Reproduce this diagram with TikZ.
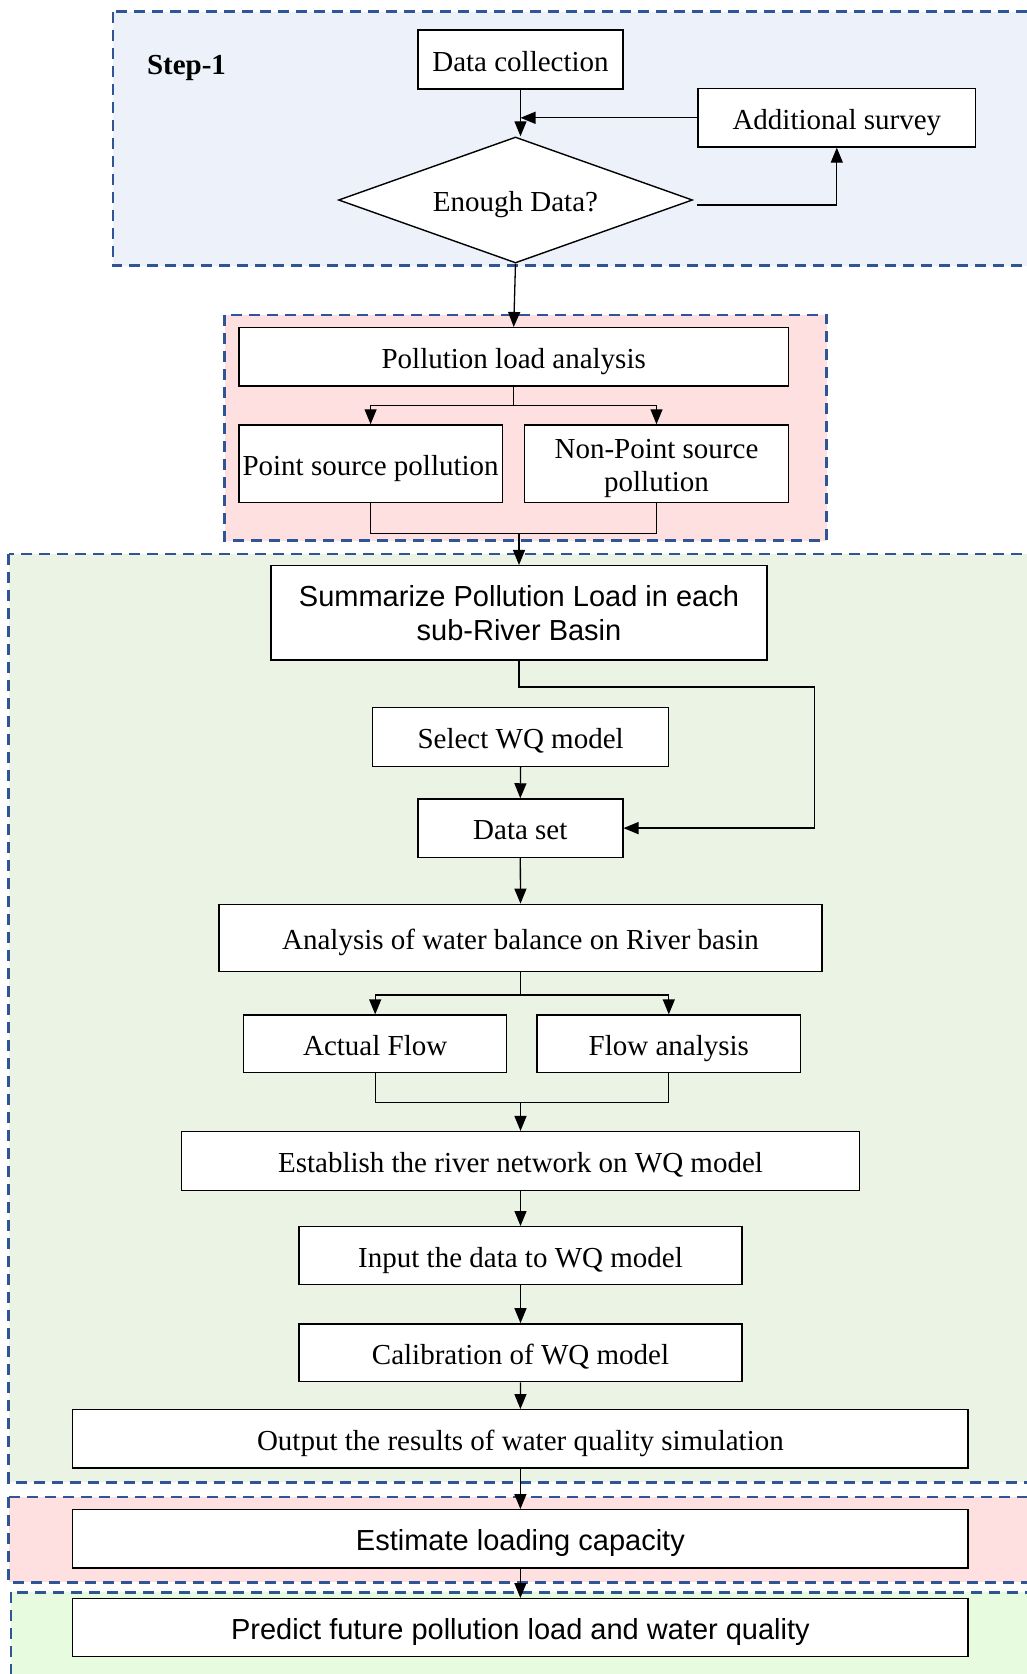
\documentclass[tikz,border=0pt]{standalone}
\usepackage{fontspec}
\setmainfont{Liberation Serif}
\newfontfamily\arialfont{Liberation Sans}
\usetikzlibrary{arrows.meta,shapes.geometric,calc}
\definecolor{dashblue}{RGB}{47,85,151}
\definecolor{zoneblue}{RGB}{237,242,250}
\definecolor{zonepink}{RGB}{255,224,225}
\definecolor{zonegreen}{RGB}{235,243,228}
\definecolor{zonelime}{RGB}{231,251,222}
\begin{document}
\begin{tikzpicture}[x=1pt,y=-1pt,
  mbox/.style={draw=black, line width=1.4pt, fill=white, inner sep=0pt, align=center,
              font={\fontsize{29}{34}\selectfont}},
  box/.style={mbox, text height=29pt, text depth=6pt},
  sbox/.style={box, font={\arialfont\fontsize{29}{34}\selectfont}},
  smbox/.style={mbox, font={\arialfont\fontsize{29}{34}\selectfont}},
  arr/.style={line width=1.3pt, -{Triangle[length=15pt,width=12pt]}},
  link/.style={line width=1.3pt},
  zone/.style={draw=dashblue, line width=2.6pt, dash pattern=on 11pt off 7pt},
]
\useasboundingbox (0,0) rectangle (1027,1674);

% background zones
\path[zone, fill=zoneblue]  (113,11.7)  rectangle (1045,265.7);
\path[zone, fill=zonepink]  (224.5,315) rectangle (826.5,540.7);
\path[zone, fill=zonegreen] (8.5,554)   rectangle (1045,1482.3);
\path[zone, fill=zonepink]  (8.5,1497)  rectangle (1045,1582.3);
\path[zone, fill=zonelime]  (11,1592.3) rectangle (1045,1710);

\node[font={\bfseries\fontsize{29}{34}\selectfont}, text height=20pt, text depth=0pt] (step) at (186.5,64) {Step-1};

% step 1
\node[box, minimum width=205pt, minimum height=59pt] (dc) at (520.5,59.5) {Data collection};
\node[box, minimum width=277.6pt, minimum height=58.3pt] (as) at (836.8,117.8) {Additional survey};
\node[box, diamond, aspect=2.81, minimum width=354pt, minimum height=126pt] (dia) at (515.5,200) {Enough Data?};
\coordinate (dx) at (697,205);

% pollution load
\node[box, minimum width=549.8pt, minimum height=58.3pt] (pla) at (513.7,356.8) {Pollution load analysis};
\node[box, minimum width=263.6pt, minimum height=77.7pt] (psp) at (370.6,463.8) {Point source pollution};
\node[mbox, minimum width=264.1pt, minimum height=77.7pt] (npsp) at (656.5,463.8)
  {\raisebox{-4pt}[\height][\depth]{\begin{tabular}{@{}c@{}}Non-Point source\\[-1pt]pollution\end{tabular}}};

% water quality model
\node[smbox, minimum width=496pt, minimum height=94.3pt] (sum) at (519,612.8) {Summarize Pollution Load in each\\sub-River Basin};
\node[box, minimum width=296pt, minimum height=58.6pt] (sel) at (520.6,737) {Select WQ model};
\node[box, minimum width=205pt, minimum height=58.3pt] (ds) at (520.3,828.1) {Data set};
\node[box, minimum width=603pt, minimum height=67.2pt] (awb) at (520.5,937.9) {Analysis of water balance on River basin};
\node[box, minimum width=263pt, minimum height=57.7pt] (af) at (375.2,1043.9) {Actual Flow};
\node[box, minimum width=263.6pt, minimum height=57.7pt] (fa) at (668.8,1043.9) {Flow analysis};
\node[box, minimum width=678pt, minimum height=58.7pt] (net) at (520.5,1161) {Establish the river network on WQ model};
\node[box, minimum width=443pt, minimum height=57.6pt] (inp) at (520.5,1255.5) {Input the data to WQ model};
\node[box, minimum width=443pt, minimum height=57.7pt] (cal) at (520.5,1352.7) {Calibration of WQ model};
\node[box, minimum width=895.3pt, minimum height=58.3pt] (out) at (520.4,1438.9) {Output the results of water quality simulation};

% capacity and prediction
\node[sbox, minimum width=895.3pt, minimum height=58.3pt] (cap) at (520.4,1538.9) {Estimate loading capacity};
\node[sbox, minimum width=895.3pt, minimum height=58pt] (pred) at (520.4,1627.7) {Predict future pollution load and water quality};

% junction points
\coordinate (j1) at (0,405.7);
\coordinate (j2) at (0,533.3);
\coordinate (j3) at (814.7,687);
\coordinate (j4) at (0,995);
\coordinate (j5) at (0,1102.7);

% connectors, step 1
\draw[arr] (dc.south) -- (dc.south |- dia.north);
\draw[arr] (as.west) -- (as.west -| dc.south);
\draw[arr] (dx) -| (as.south);
\draw[arr] (dia.south) -- (pla.north);

% connectors, pollution load
\draw[link] (pla.south) -- (pla.south |- j1);
\draw[arr] (pla.south |- j1) -| (psp.north);
\draw[arr] (pla.south |- j1) -| (npsp.north);
\draw[link] (psp.south) -- (psp.south |- j2) -- (npsp.south |- j2) -- (npsp.south);
\draw[arr] (sum.north |- j2) -- (sum.north);

% connectors, water quality model
\draw[arr] (sum.south) |- (j3) |- (ds.east);
\draw[arr] (sel.south) -- (ds.north);
\draw[arr] (ds.south) -- (awb.north);
\draw[link] (awb.south) -- (awb.south |- j4);
\draw[arr] (awb.south |- j4) -| (af.north);
\draw[arr] (awb.south |- j4) -| (fa.north);
\draw[link] (af.south) -- (af.south |- j5) -- (fa.south |- j5) -- (fa.south);
\draw[arr] (net.north |- j5) -- (net.north);
\draw[arr] (net.south) -- (inp.north);
\draw[arr] (inp.south) -- (cal.north);
\draw[arr] (cal.south) -- (out.north);
\draw[arr] (out.south) -- (cap.north);
\draw[arr] (cap.south) -- (pred.north);
\end{tikzpicture}
\end{document}
